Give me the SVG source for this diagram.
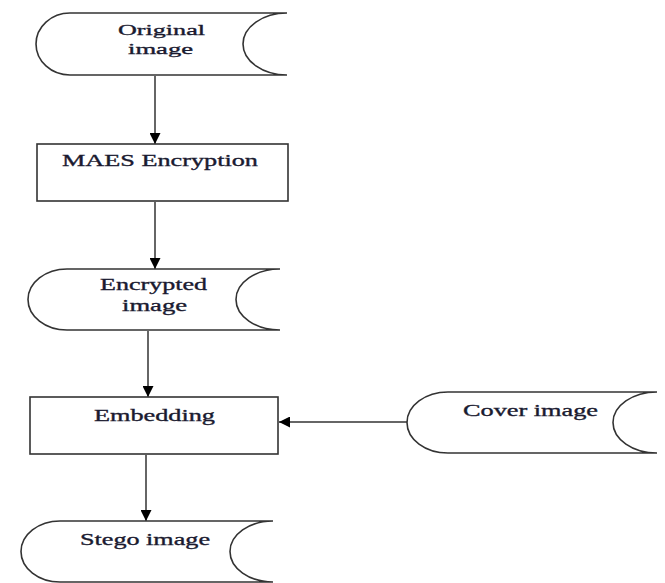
<svg xmlns="http://www.w3.org/2000/svg" width="665" height="583" viewBox="0 0 665 583">
<defs>
<style>
.shape{fill:#fff;stroke:#333;stroke-width:1.6}
.lbl{font-family:"Liberation Serif","Times New Roman",serif;font-size:17px;fill:#1a1a30;stroke:#1a1a30;stroke-width:0.35}
.sm{font-size:15.5px}
.conn{stroke:#666;stroke-width:2;fill:none;marker-end:url(#ah)}
</style>
<marker id="ah" viewBox="0 0 10 10" refX="10" refY="5" markerWidth="11" markerHeight="11" markerUnits="userSpaceOnUse" orient="auto">
<path d="M0,0 L10,5 L0,10 Z" fill="#000"/>
</marker>
</defs>
<rect width="665" height="583" fill="#fff"/>
<g id="connectors">
<line class="conn" x1="155" y1="76" x2="155" y2="144"/>
<line class="conn" x1="155" y1="202" x2="155" y2="269"/>
<line class="conn" x1="148" y1="331" x2="148" y2="397"/>
<line class="conn" x1="146" y1="455" x2="146" y2="521"/>
<line class="conn" x1="407" y1="422" x2="279" y2="422"/>
</g>
<g id="original">
<path class="shape" d="M70,13 L287,13 A44,31 0 0,0 287,75 L70,75 A34,31 0 0,1 70,13 Z"/>
<text class="lbl sm" x="118" y="35" textLength="87" lengthAdjust="spacingAndGlyphs">Original</text>
<text class="lbl sm" x="128" y="54" textLength="65" lengthAdjust="spacingAndGlyphs">image</text>
</g>
<g id="maes">
<rect class="shape" x="37" y="144" width="251" height="57"/>
<text class="lbl" x="62" y="166" textLength="196" lengthAdjust="spacingAndGlyphs">MAES Encryption</text>
</g>
<g id="encrypted">
<path class="shape" d="M67,269 L280,269 A44,30.5 0 0,0 280,330 L67,330 A39,30.5 0 0,1 67,269 Z"/>
<text class="lbl" x="100" y="290" textLength="107" lengthAdjust="spacingAndGlyphs">Encrypted</text>
<text class="lbl" x="122" y="311" textLength="65" lengthAdjust="spacingAndGlyphs">image</text>
</g>
<g id="embedding">
<rect class="shape" x="30" y="397" width="248" height="57"/>
<text class="lbl" x="94" y="421" textLength="121" lengthAdjust="spacingAndGlyphs">Embedding</text>
</g>
<g id="cover">
<path class="shape" d="M448,392 L657,392 A44,30.5 0 0,0 657,453 L448,453 A41,30.5 0 0,1 448,392 Z"/>
<text class="lbl" x="463" y="416" textLength="135" lengthAdjust="spacingAndGlyphs">Cover image</text>
</g>
<g id="stego">
<path class="shape" d="M60,521 L273,521 A43,30.5 0 0,0 273,582 L60,582 A39,30.5 0 0,1 60,521 Z"/>
<text class="lbl" x="80" y="545" textLength="130" lengthAdjust="spacingAndGlyphs">Stego image</text>
</g>
</svg>
